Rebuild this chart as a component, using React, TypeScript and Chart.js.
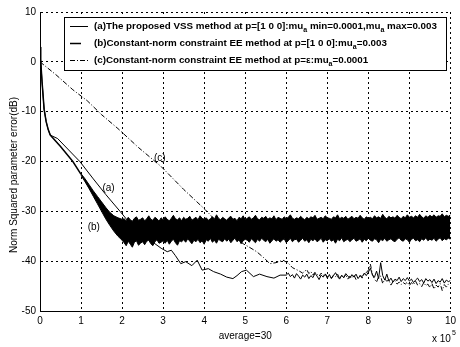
import React, { useEffect, useRef } from "react";
import { Chart, registerables } from "chart.js";
Chart.register(...registerables);

// ---- data (x in units of 10^5 iterations, y in dB) ----
const xMin = 0, xMax = 10, yMin = -50, yMax = 10;

// (a) proposed VSS method: read points up to x=6, then 0.05-spaced samples
const aXHead = [0, 0.01, 0.02, 0.05, 0.1, 0.15, 0.2, 0.25, 0.43, 0.7, 0.97, 1.3, 1.6, 1.95, 2.15, 2.4, 2.6, 2.8, 2.95, 3.1, 3.2, 3.3, 3.43, 3.55, 3.7, 3.83, 3.95, 4.1, 4.23, 4.4, 4.55, 4.7, 4.8, 4.91, 5.03, 5.2, 5.35, 5.53, 5.7, 5.85, 6.0];
const aYHead = [0, 3, 0.5, -4, -9.5, -12, -13.6, -14.7, -15.4, -17.7, -20, -23.5, -26.6, -30, -32, -34, -35.3, -36.5, -37.4, -38.1, -37.8, -38.9, -40.5, -40.1, -40.9, -39.8, -41.8, -41.5, -42.1, -42.6, -43.2, -43.5, -42.9, -42.1, -41.8, -43.1, -42.6, -43.1, -43.4, -42.8, -42.8];
const aTailStart = 6.05, aTailStep = 0.05;
const aYTail = [
  -42.4, -43.1, -42.7, -43.4, -42.5, -43.0, -43.6, -42.8, -43.2, -42.6,
  -43.5, -42.9, -43.3, -42.4, -43.0, -43.7, -42.8, -43.2, -42.6, -43.4,
  -42.7, -43.5, -42.9, -42.3, -43.1, -43.6, -42.8, -43.3, -42.5, -43.0,
  -43.4, -42.7, -43.2, -42.6, -43.5, -42.9, -43.1, -42.4, -42.9, -42.2,
  -41.4, -42.8, -43.2, -42.0, -43.5, -40.3, -42.9, -43.8, -42.6, -44.0,
  -43.4, -44.2, -43.6, -43.9, -43.2, -44.1, -43.5, -43.9, -43.3, -44.0,
  -43.6, -44.3, -43.8, -43.4, -44.1, -43.7, -44.4, -43.5, -44.0, -43.7,
  -44.3, -43.6, -44.5, -43.9, -44.2, -43.5, -44.4, -43.8, -44.1, -43.9];

// (b) constant-norm EE, mu=0.003 : descent line, then noisy band (upper / lower envelope)
const bX = [0, 0.01, 0.02, 0.05, 0.1, 0.15, 0.2, 0.25, 0.5, 0.8, 1.0];
const bY = [0, 3, 0.5, -4, -9.5, -12, -13.6, -14.7, -17, -20, -22.6];
const band1Start = 1.0, band1Step = 0.1;
const bHi1 = [-22.45, -23.5, -24.7, -25.9, -27.0, -28.1, -29.2, -30.2, -30.9, -31.3, -31.6];
const bLo1 = [-22.75, -24.1, -25.5, -27.0, -28.5, -30.0, -31.5, -32.8, -34.0, -35.0, -35.8];
const band2Start = 2.05, band2Step = 0.05;
const bHi2 = [
  -31.5, -31.9, -31.2, -31.7, -32.0, -31.4, -31.1, -31.8, -31.6, -31.3,
  -31.9, -31.5, -30.9, -31.6, -31.8, -31.2, -31.5, -32.0, -31.3, -31.7,
  -31.1, -31.6, -31.9, -31.4, -30.8, -31.5, -31.7, -31.3, -31.9, -31.2,
  -31.6, -31.4, -31.0, -31.8, -31.5, -31.2, -31.7, -30.9, -31.4, -31.6,
  -31.3, -31.8, -31.5, -31.1, -31.6, -30.7, -31.4, -31.7, -31.2, -31.5,
  -31.8, -31.3, -31.0, -31.6, -31.4, -31.9, -31.2, -31.5, -30.9, -31.7,
  -31.4, -31.1, -31.6, -31.3, -30.8, -31.5, -31.7, -31.2, -31.4, -31.0,
  -31.6, -31.3, -31.5, -30.9, -31.7, -31.2, -31.4, -31.6, -31.1, -31.5,
  -31.2, -30.7, -31.4, -31.6, -31.3, -31.5, -31.0, -31.4, -31.7, -31.2,
  -31.5, -31.1, -31.3, -30.8, -31.6, -31.4, -31.2, -31.5, -30.9, -31.3,
  -31.4, -31.6, -31.1, -31.3, -30.7, -31.5, -31.2, -31.4, -31.0, -31.6,
  -31.3, -31.0, -31.5, -31.2, -31.4, -30.8, -31.3, -31.6, -31.1, -31.4,
  -31.2, -31.5, -30.9, -31.3, -31.1, -31.4, -30.6, -31.2, -31.5, -31.0,
  -31.3, -31.1, -31.4, -30.8, -31.2, -31.5, -31.0, -31.3, -30.7, -31.2,
  -31.0, -31.3, -30.9, -31.2, -30.6, -31.1, -31.4, -30.9, -31.2, -30.8,
  -31.1, -30.7, -31.2, -30.9, -31.0, -30.5, -31.1, -30.8, -31.0, -30.7];
const bLo2 = [
  -36.3, -36.9, -36.0, -36.6, -37.2, -36.2, -35.9, -36.8, -36.4, -36.1,
  -36.7, -36.0, -35.8, -36.5, -36.9, -36.1, -35.7, -36.4, -36.2, -35.9,
  -36.4, -35.8, -36.6, -36.0, -35.6, -36.3, -36.8, -35.9, -36.1, -35.7,
  -36.2, -35.5, -36.0, -36.5, -35.8, -36.1, -35.6, -36.3, -35.9, -36.6,
  -35.7, -36.0, -35.4, -36.2, -35.8, -36.4, -35.6, -35.9, -36.1, -35.5,
  -36.0, -35.6, -36.3, -35.8, -35.4, -36.1, -35.7, -36.5, -35.9, -35.6,
  -35.8, -36.2, -35.5, -35.9, -36.3, -35.6, -36.0, -35.4, -35.8, -36.1,
  -35.6, -36.4, -35.9, -35.5, -36.0, -35.7, -36.2, -35.8, -35.5, -36.3,
  -35.9, -35.4, -36.1, -35.7, -35.6, -36.2, -35.8, -35.4, -36.0, -35.7,
  -36.3, -35.6, -35.9, -35.5, -36.1, -35.8, -35.4, -36.2, -35.7, -35.9,
  -35.5, -36.0, -35.7, -36.4, -35.6, -35.9, -35.3, -36.1, -35.8, -35.6,
  -36.1, -35.7, -35.4, -36.0, -35.8, -35.5, -36.2, -35.6, -35.9, -35.4,
  -35.8, -36.0, -35.5, -35.7, -36.3, -35.6, -35.9, -35.4, -36.0, -35.7,
  -35.5, -35.9, -36.1, -35.6, -35.3, -35.8, -36.0, -35.5, -35.7, -36.2,
  -35.6, -35.4, -35.9, -35.7, -36.1, -35.5, -35.8, -35.3, -35.9, -35.6,
  -35.8, -35.4, -36.0, -35.6, -35.3, -35.9, -35.5, -35.7, -35.4, -35.6];

// (c) constant-norm EE, mu=0.0001
const cXHead = [0, 0.39, 0.8, 1.15, 1.5, 1.9, 2.4, 2.95, 3.5, 4.03, 4.23, 4.5, 4.75, 4.95, 5.1, 5.28, 5.45, 5.6, 5.75, 5.92, 6.05, 6.15, 6.3, 6.4];
const cYHead = [0, -2.6, -5.6, -7.8, -10.6, -13.4, -17.2, -21.0, -25.6, -29.7, -31.4, -33.4, -35.2, -36.5, -37.2, -38.1, -39.3, -40.5, -40.3, -39.8, -40.4, -41.3, -41.9, -42.4];
const cTailStart = 6.45, cTailStep = 0.05;
const cYTail = [
  -42.0, -41.7, -42.5, -42.1, -42.8, -42.2, -42.6, -43.0, -42.4, -42.9,
  -42.5, -43.2, -42.7, -43.4, -42.8, -43.1, -42.6, -43.5, -42.9, -43.3,
  -42.7, -43.6, -43.0, -43.3, -42.8, -43.7, -43.1, -42.9, -43.4, -42.6,
  -42.3, -41.8, -40.6, -42.7, -43.6, -44.2, -43.1, -43.0, -44.5, -43.6,
  -44.0, -43.8, -44.8, -44.1, -43.9, -44.6, -44.2, -44.7, -44.3, -44.6,
  -44.2, -44.9, -44.3, -44.7, -44.0, -44.8, -44.5, -45.1, -44.3, -44.9,
  -44.6, -45.3, -44.5, -45.6, -44.8, -45.2, -44.5, -45.9, -44.7, -45.2,
  -44.6, -44.9];

// curve annotations
const curveTags = ["(a)", "(b)", "(c)"];
const tagX = [1.67, 1.31, 2.92];
const tagY = [-25.3, -33.2, -19.4];

// legend entries: [text, isSubscript]
const legendRows: [string, boolean][][] = [
  [["(a)The proposed VSS method at p=[1 0 0]:mu", false], ["a", true], [" min=0.0001,mu", false], ["a", true], [" max=0.003", false]],
  [["(b)Constant-norm constraint EE method at p=[1 0 0]:mu", false], ["a", true], ["=0.003", false]],
  [["(c)Constant-norm constraint EE method at p=ε:mu", false], ["a", true], ["=0.0001", false]],
];
const xTitle = "average=30";
const yTitle = "Norm Squared parameter error(dB)";
const xExpBase = "x 10";
const xExp = "5";

const FONT = '"Liberation Sans", Arial, sans-serif';
const pts = (xs: number[], ys: number[]) => xs.map((x, i) => ({ x, y: ys[i] }));
const gridX = (start: number, step: number, n: number) => Array.from({ length: n }, (_, i) => +(start + i * step).toFixed(2));

const overlay = {
  id: "overlay",
  afterDatasetsDraw(chart: any) {
    const { ctx, chartArea, scales } = chart;
    const xs = scales.x, ys = scales.y;
    ctx.save();
    ctx.fillStyle = "#000";
    ctx.textAlign = "center";
    ctx.textBaseline = "middle";
    ctx.font = `10px ${FONT}`;
    curveTags.forEach((t, i) => ctx.fillText(t, xs.getPixelForValue(tagX[i]), ys.getPixelForValue(tagY[i])));

    // legend box
    const L = chartArea.left + 24, T = chartArea.top + 5, R = chartArea.right - 4, B = T + 53;
    ctx.fillStyle = "#fff";
    ctx.fillRect(L, T, R - L, B - T);
    ctx.strokeStyle = "#000";
    ctx.lineWidth = 1;
    ctx.strokeRect(Math.round(L) + 0.5, Math.round(T) + 0.5, Math.round(R - L), Math.round(B - T));
    const dashes = [[], [], [5, 2, 1, 2]];
    const widths = [1, 1.5, 1];
    const sampleLen = [18, 11, 18];
    legendRows.forEach((row, i) => {
      const y = T + 9 + i * 17;
      ctx.beginPath();
      ctx.setLineDash(dashes[i]);
      ctx.lineWidth = widths[i];
      ctx.moveTo(L + 6, y + 0.5);
      ctx.lineTo(L + 6 + sampleLen[i], y + 0.5);
      ctx.stroke();
      ctx.setLineDash([]);
      let x = L + 30;
      ctx.fillStyle = "#000";
      ctx.textAlign = "left";
      ctx.textBaseline = "middle";
      row.forEach(([t, sub]) => {
        ctx.font = sub ? `bold 7px ${FONT}` : `bold 9.8px ${FONT}`;
        ctx.fillText(t, x, sub ? y + 4 : y);
        x += ctx.measureText(t).width;
      });
    });

    // axis titles
    ctx.font = `10px ${FONT}`;
    ctx.textAlign = "center";
    ctx.textBaseline = "middle";
    ctx.fillText(xTitle, (chartArea.left + chartArea.right) / 2, 336);
    ctx.textAlign = "left";
    ctx.textBaseline = "alphabetic";
    ctx.fillText(xExpBase, 432, 342);
    const w = ctx.measureText(xExpBase).width;
    ctx.font = `7px ${FONT}`;
    ctx.fillText(xExp, 432 + w + 1, 335);
    ctx.font = `10px ${FONT}`;
    ctx.translate(14, 175);
    ctx.rotate(-Math.PI / 2);
    ctx.textAlign = "center";
    ctx.textBaseline = "middle";
    ctx.fillText(yTitle, 0, 0);
    ctx.restore();
  },
};

export default function App() {
  const ref = useRef<HTMLCanvasElement>(null);
  useEffect(() => {
    document.body.style.margin = "0";
    const bandXs = gridX(band1Start, band1Step, bHi1.length).concat(gridX(band2Start, band2Step, bHi2.length));
    const aX = aXHead.concat(gridX(aTailStart, aTailStep, aYTail.length));
    const aY = aYHead.concat(aYTail);
    const cX = cXHead.concat(gridX(cTailStart, cTailStep, cYTail.length));
    const cY = cYHead.concat(cYTail);
    const chart = new Chart(ref.current!, {
      type: "line",
      data: {
        datasets: [
          { label: "bHi", data: pts(bandXs, bHi1.concat(bHi2)), borderColor: "#000", borderWidth: 1, backgroundColor: "#000", fill: "+1", pointRadius: 0 },
          { label: "bLo", data: pts(bandXs, bLo1.concat(bLo2)), borderColor: "#000", borderWidth: 1, fill: false, pointRadius: 0 },
          { label: "b", data: pts(bX, bY), borderColor: "#000", borderWidth: 1.5, fill: false, pointRadius: 0 },
          { label: "a", data: pts(aX, aY), borderColor: "#000", borderWidth: 1, fill: false, pointRadius: 0 },
          { label: "c", data: pts(cX, cY), borderColor: "#000", borderWidth: 1, borderDash: [5, 2, 1, 2], fill: false, pointRadius: 0 },
        ],
      },
      options: {
        responsive: false,
        animation: false,
        layout: { padding: { left: 0, right: 4, top: 12, bottom: 0 } },
        plugins: { legend: { display: false }, tooltip: { enabled: false } },
        elements: { line: { tension: 0 } },
        scales: {
          x: {
            type: "linear", min: xMin, max: xMax,
            ticks: { stepSize: 1, color: "#000", padding: 4, font: { family: FONT, size: 10 }, maxRotation: 0 },
            grid: { color: "#000", lineWidth: 1, drawTicks: false },
            border: { display: true, color: "#000", width: 1, dash: [2, 3] },
            afterFit: (s: any) => { s.height = 36; },
          },
          y: {
            type: "linear", min: yMin, max: yMax,
            ticks: { stepSize: 10, color: "#000", padding: 4, font: { family: FONT, size: 10 } },
            grid: { color: "#000", lineWidth: 1, drawTicks: false },
            border: { display: true, color: "#000", width: 1, dash: [2, 3] },
            afterFit: (s: any) => { s.width = 40; },
          },
        },
      },
      plugins: [overlay],
    });
    return () => chart.destroy();
  }, []);
  return <canvas ref={ref} width={460} height={347} style={{ display: "block" }} />;
}
